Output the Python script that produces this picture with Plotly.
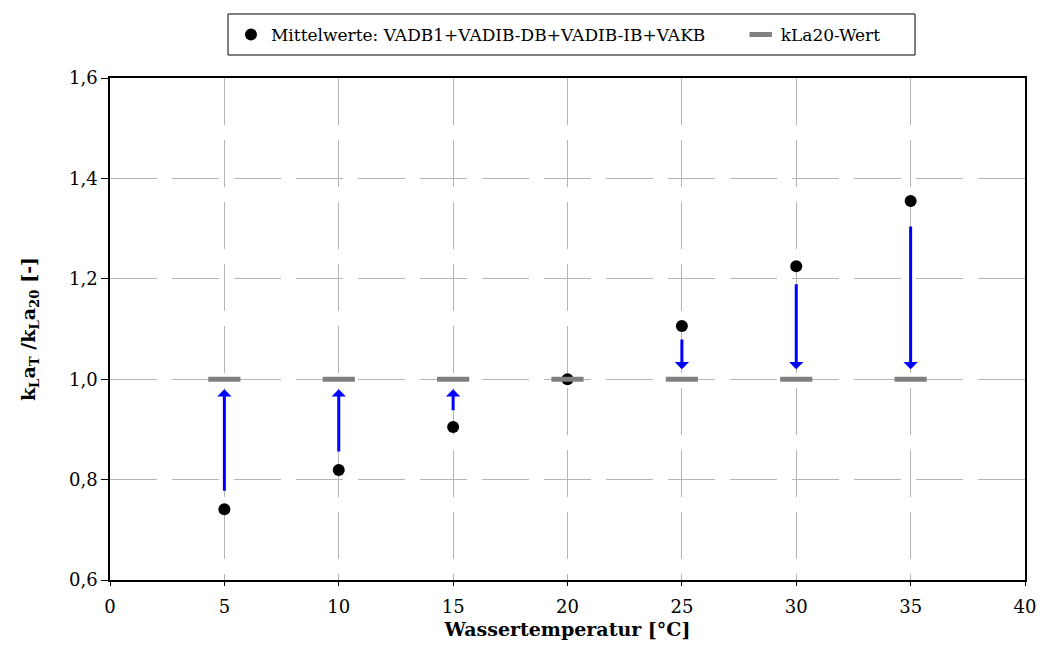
import plotly.graph_objects as go

# data
temps = [5, 10, 15, 20, 25, 30, 35]
means = [0.741, 0.819, 0.905, 1.000, 1.106, 1.225, 1.355]
kla20 = [1.0, 1.0, 1.0, 1.0, 1.0, 1.0, 1.0]
arrow_x = [5, 10, 15, 25, 30, 35]
arrow_start = [0.775, 0.853, 0.935, 1.082, 1.192, 1.307]
arrow_end = [0.980, 0.980, 0.980, 1.020, 1.020, 1.020]

x_ticks = [0, 5, 10, 15, 20, 25, 30, 35, 40]
y_ticks = [0.6, 0.8, 1.0, 1.2, 1.4, 1.6]
y_ticklabels = ["0,6", "0,8", "1,0", "1,2", "1,4", "1,6"]

FONT = "DejaVu Serif"

fig = go.Figure()
fig.add_trace(go.Scatter(
    x=temps, y=means, mode="markers",
    name="Mittelwerte: VADB1+VADIB-DB+VADIB-IB+VAKB",
    marker=dict(color="black", size=12, symbol="circle"),
    legend="legend",
))
fig.add_trace(go.Scatter(
    x=temps, y=kla20, mode="markers",
    name="kLa20-Wert",
    marker=dict(symbol="line-ew", size=23, color="#808080",
                line=dict(color="#808080", width=5)),
    legend="legend2",
))

for x, s, e in zip(arrow_x, arrow_start, arrow_end):
    fig.add_annotation(
        x=x, y=e, ax=x, ay=s, xref="x", yref="y", axref="x", ayref="y",
        showarrow=True, arrowhead=1, arrowsize=0.8, arrowwidth=3,
        arrowcolor="#0000ff", standoff=0, startstandoff=0, text="",
    )

# legend frame
fig.add_shape(type="rect", xref="paper", yref="paper",
              x0=0.129, x1=0.8798, y0=1.0458, y1=1.1275,
              line=dict(color="black", width=1), fillcolor="white", layer="below")

grid = dict(showgrid=True, gridcolor="#b5b5b5", gridwidth=1, griddash="47px,15px")

leg_common = dict(orientation="h", yanchor="top", y=1.1215, xanchor="left",
                  borderwidth=0, bgcolor="rgba(0,0,0,0)",
                  font=dict(family=FONT, size=17), itemsizing="trace")

fig.update_layout(
    width=1042, height=651,
    margin=dict(l=110, r=17, t=78, b=71, autoexpand=False),
    paper_bgcolor="white", plot_bgcolor="white",
    font=dict(family=FONT, size=17, color="black"),
    showlegend=True,
    legend=dict(x=0.1322, **leg_common),
    legend2=dict(x=0.6893, **leg_common),
    xaxis=dict(
        range=[0, 40], tickvals=x_ticks, ticks="outside", ticklen=4,
        tickcolor="black", showline=True, linecolor="black", linewidth=1.5,
        mirror=True, zeroline=False, automargin=False, ticklabelstandoff=6,
        title=dict(text="<b>Wassertemperatur [°C]</b>", font=dict(size=19), standoff=6),
        tickfont=dict(size=18),
        **grid,
    ),
    yaxis=dict(
        range=[0.6, 1.6], tickvals=y_ticks, ticktext=y_ticklabels,
        ticks="outside", ticklen=7, tickcolor="black", automargin=False,
        showline=True, linecolor="black", linewidth=1.5, mirror=True, zeroline=False,
        title=dict(text="<b>k<sub>L</sub>a<sub>T</sub> /k<sub>L</sub>a<sub>20</sub> [-]</b>",
                   font=dict(size=19), standoff=28),
        tickfont=dict(size=18),
        **grid,
    ),
)

fig.write_html("out.html")
